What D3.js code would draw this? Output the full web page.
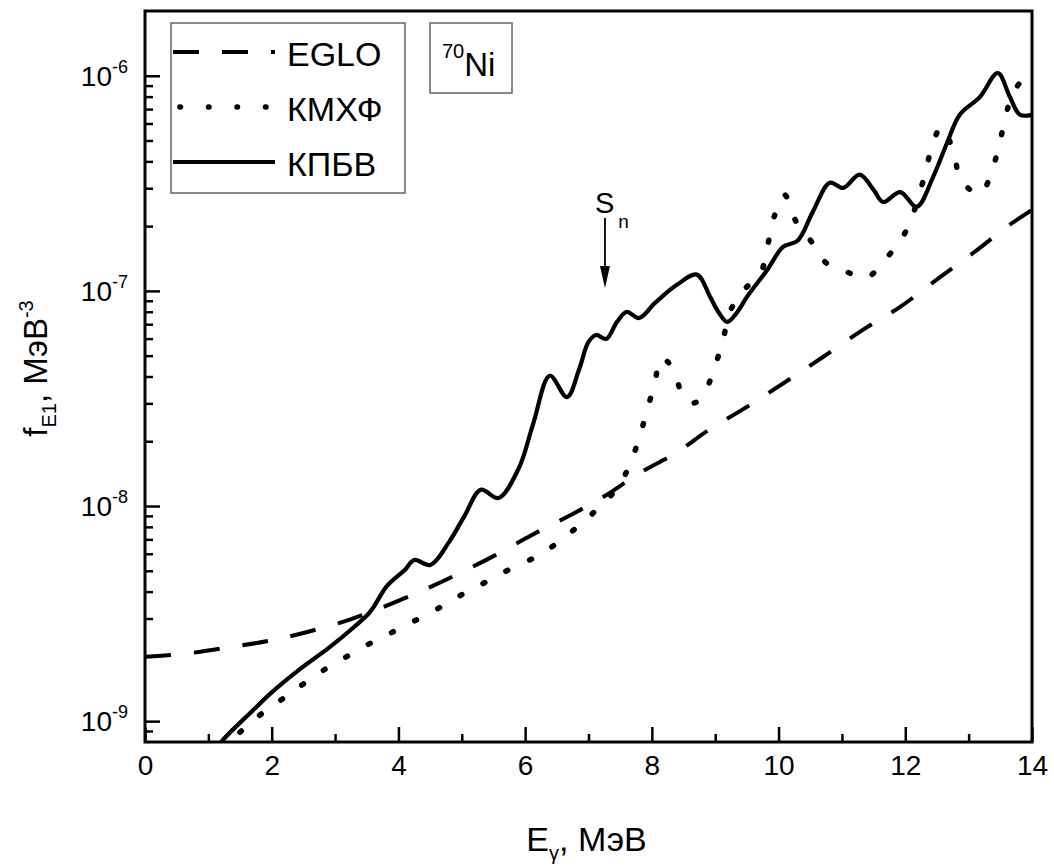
<!DOCTYPE html>
<html>
<head>
<meta charset="utf-8">
<script src="https://cdn.jsdelivr.net/npm/d3@7"></script>
<style>
  body { margin: 0; background: #fff; }
  svg { font-family: "Liberation Sans", Arial, sans-serif; }
</style>
</head>
<body>
<svg id="chart" width="1054" height="867"></svg>
<script>
// photon strength function f_E1 for 70Ni
const egloE = [0, 0.7, 1.35, 1.95, 2.5, 3.1, 3.6, 4.1, 4.5, 4.9, 5.5, 6.1, 6.66, 7.25, 7.8, 8.4, 8.87, 9.5, 10.13, 10.7, 11.33, 11.92, 12.5, 13.07, 13.65, 14.0];
const egloF = [1.99e-9, 2.07e-9, 2.21e-9, 2.36e-9, 2.57e-9, 2.88e-9, 3.25e-9, 3.73e-9, 4.20e-9, 4.77e-9, 5.85e-9, 7.32e-9, 8.89e-9, 1.11e-8, 1.42e-8, 1.78e-8, 2.23e-8, 2.89e-8, 3.81e-8, 4.93e-8, 6.59e-8, 8.43e-8, 1.13e-7, 1.50e-7, 2.03e-7, 2.38e-7];

const kmhfE = [1.2, 1.5, 1.87, 2.24, 2.5, 2.85, 3.19, 3.53, 3.87, 4.21, 4.55, 4.8, 5.1, 5.41, 5.76, 6.19, 6.53, 6.86, 7.14, 7.4, 7.55, 7.66, 7.8, 7.93, 8.05, 8.14, 8.25, 8.37, 8.5, 8.65, 8.8, 8.98, 9.12, 9.23, 9.44, 9.72, 9.83, 9.93, 10.09, 10.28, 10.52, 10.75, 11.09, 11.38, 11.72, 12.02, 12.3, 12.42, 12.57, 12.76, 12.88, 13.18, 13.38, 13.5, 13.6, 13.74, 14.0];
const kmhfF = [7.33e-10, 8.89e-10, 1.10e-9, 1.31e-9, 1.49e-9, 1.75e-9, 2.00e-9, 2.28e-9, 2.56e-9, 2.88e-9, 3.25e-9, 3.57e-9, 4.03e-9, 4.48e-9, 5.09e-9, 5.85e-9, 6.81e-9, 8.17e-9, 9.68e-9, 1.16e-8, 1.35e-8, 1.58e-8, 2.07e-8, 2.82e-8, 3.78e-8, 4.88e-8, 4.68e-8, 4.06e-8, 3.21e-8, 3.01e-8, 3.21e-8, 4.34e-8, 5.85e-8, 7.98e-8, 1.00e-7, 1.22e-7, 1.64e-7, 2.21e-7, 2.80e-7, 2.09e-7, 1.69e-7, 1.35e-7, 1.22e-7, 1.15e-7, 1.44e-7, 1.92e-7, 3.39e-7, 4.68e-7, 5.79e-7, 4.44e-7, 3.28e-7, 2.82e-7, 3.73e-7, 5.04e-7, 6.81e-7, 8.71e-7, 1.07e-6];

const kpbvE = [1.0, 1.2, 1.66, 2.0, 2.45, 2.9, 3.3, 3.55, 3.82, 4.1, 4.25, 4.5, 4.8, 5.05, 5.3, 5.58, 5.9, 6.13, 6.39, 6.66, 6.85, 7.0, 7.12, 7.28, 7.45, 7.6, 7.8, 8.05, 8.4, 8.71, 8.92, 9.05, 9.19, 9.35, 9.5, 9.82, 10.07, 10.3, 10.54, 10.81, 11.02, 11.28, 11.5, 11.65, 11.92, 12.18, 12.44, 12.66, 12.86, 13.18, 13.46, 13.65, 13.81, 14.0];
const kpbvF = [6.4e-10, 7.98e-10, 1.09e-9, 1.36e-9, 1.75e-9, 2.19e-9, 2.74e-9, 3.21e-9, 4.25e-9, 5.04e-9, 5.61e-9, 5.32e-9, 6.81e-9, 9.08e-9, 1.19e-8, 1.09e-8, 1.50e-8, 2.43e-8, 4.03e-8, 3.21e-8, 4.30e-8, 5.79e-8, 6.24e-8, 5.98e-8, 7.18e-8, 7.98e-8, 7.48e-8, 8.79e-8, 1.07e-7, 1.19e-7, 9.38e-8, 7.98e-8, 7.18e-8, 7.98e-8, 9.38e-8, 1.25e-7, 1.60e-7, 1.71e-7, 2.33e-7, 3.18e-7, 3.01e-7, 3.47e-7, 2.95e-7, 2.59e-7, 2.88e-7, 2.46e-7, 3.39e-7, 4.88e-7, 6.59e-7, 7.98e-7, 1.03e-6, 7.98e-7, 6.59e-7, 6.59e-7];

const seriesNames = ["EGLO", "КМХФ", "КПБВ"];
const xMajorTicks = [0, 2, 4, 6, 8, 10, 12, 14];
const xMinorTicks = [1, 3, 5, 7, 9, 11, 13];
const yMajorExps = [-9, -8, -7, -6];
const snEnergy = 7.26;

const svg = d3.select("#chart");
const plotLeft = 145, plotRight = 1032, plotTop = 11, plotBottom = 742;

const x = d3.scaleLinear().domain([0, 14]).range([plotLeft, plotRight]);
const y = d3.scaleLog().domain([8e-10, 2e-6]).range([plotBottom, plotTop]);

// minor log ticks 2..9 per decade, kept inside the domain
const yMinorTicks = [];
[-10, -9, -8, -7].forEach(e => {
    for (let m = 2; m <= 9; m++) {
        const v = m * Math.pow(10, e);
        if (v > 8e-10 && v < 1.9e-6) yMinorTicks.push(v);
    }
});

svg.append("defs").append("clipPath").attr("id", "plot-clip")
    .append("rect")
        .attr("x", plotLeft).attr("y", plotTop)
        .attr("width", plotRight - plotLeft).attr("height", plotBottom - plotTop);

// ticks point inward
function drawTicks(axis, transform, cls) {
    const g = svg.append("g").attr("class", cls).attr("transform", transform).call(axis);
    g.select(".domain").remove();
    g.selectAll(".tick line").attr("stroke", "#000").attr("stroke-width", 2.5);
    return g;
}

const xMajor = drawTicks(
    d3.axisBottom(x).tickValues(xMajorTicks).tickSize(-15).tickPadding(13).tickFormat(d3.format("d")),
    "translate(0," + plotBottom + ")", "x-axis");
xMajor.selectAll(".tick text")
    .attr("font-size", 28).attr("fill", "#000")
    .attr("font-family", "Liberation Sans, Arial, sans-serif")
    .attr("dy", "0.71em");
drawTicks(d3.axisBottom(x).tickValues(xMinorTicks).tickSize(-8).tickFormat(""),
    "translate(0," + plotBottom + ")", "x-axis-minor");

drawTicks(
    d3.axisLeft(y).tickValues(yMajorExps.map(e => Math.pow(10, e))).tickSize(-15).tickFormat(""),
    "translate(" + plotLeft + ",0)", "y-axis");
drawTicks(d3.axisLeft(y).tickValues(yMinorTicks).tickSize(-8).tickFormat(""),
    "translate(" + plotLeft + ",0)", "y-axis-minor");

// 10^n labels with real superscripts
svg.append("g").attr("class", "y-labels")
    .selectAll("text").data(yMajorExps).enter()
    .append("text")
        .attr("x", plotLeft - 17)
        .attr("y", e => y(Math.pow(10, e)) + 10)
        .attr("text-anchor", "end")
        .attr("font-size", 28)
        .each(function (e) {
            const t = d3.select(this);
            t.append("tspan").text("10");
            t.append("tspan").attr("font-size", 18).attr("dy", -13).text(String(e));
        });

// curves
const line = d3.line()
    .x(d => x(d[0]))
    .y(d => y(d[1]))
    .curve(d3.curveCatmullRom.alpha(0.5));

const series = [
    { name: seriesNames[0], pts: d3.zip(egloE, egloF), dash: "26 23", width: 4, cap: "butt" },
    { name: seriesNames[1], pts: d3.zip(kmhfE, kmhfF), dash: "2 24", width: 5.5, cap: "round" },
    { name: seriesNames[2], pts: d3.zip(kpbvE, kpbvF), dash: null, width: 4.2, cap: "round" }
];

svg.append("g").attr("clip-path", "url(#plot-clip)")
    .selectAll("path").data(series).enter()
    .append("path")
        .attr("d", d => line(d.pts))
        .attr("fill", "none")
        .attr("stroke", "#000")
        .attr("stroke-width", d => d.width)
        .attr("stroke-linecap", d => d.cap)
        .attr("stroke-linejoin", "round")
        .attr("stroke-dasharray", d => d.dash);

// frame
svg.append("rect")
    .attr("x", plotLeft).attr("y", plotTop)
    .attr("width", plotRight - plotLeft).attr("height", plotBottom - plotTop)
    .attr("fill", "none").attr("stroke", "#000").attr("stroke-width", 3);

// legend
const legend = svg.append("g").attr("class", "legend");
legend.append("rect")
    .attr("x", 171).attr("y", 23).attr("width", 234).attr("height", 170)
    .attr("fill", "#fff").attr("stroke", "#666").attr("stroke-width", 1.5);
const legendRow = legend.selectAll("g.row").data(series).enter()
    .append("g").attr("class", "row")
    .attr("transform", (d, i) => "translate(0," + (i * 55) + ")");
legendRow.append("line")
    .attr("x1", d => d.cap === "round" && d.dash ? 180 : 173).attr("x2", 275)
    .attr("y1", 52).attr("y2", 52)
    .attr("stroke", "#000")
    .attr("stroke-width", d => d.width)
    .attr("stroke-linecap", d => d.dash ? d.cap : "butt")
    .attr("stroke-dasharray", d => d.dash ? (d.cap === "round" ? "0.5 28" : d.dash) : null);
legendRow.append("text")
    .attr("x", 287).attr("y", 66)
    .attr("font-size", 34)
    .text(d => d.name);

// nucleus label
const nuc = svg.append("g").attr("class", "nucleus");
nuc.append("rect")
    .attr("x", 430).attr("y", 23).attr("width", 82).attr("height", 70)
    .attr("fill", "#fff").attr("stroke", "#666").attr("stroke-width", 1.5);
const nucText = nuc.append("text").attr("x", 442).attr("y", 76).attr("font-size", 33);
nucText.append("tspan").attr("font-size", 20).attr("dy", -18).text("70");
nucText.append("tspan").attr("dy", 18).text("Ni");

// neutron separation energy marker
const snX = x(snEnergy);
const snG = svg.append("g").attr("class", "sn");
const snText = snG.append("text").attr("x", snX - 10).attr("y", 213).attr("font-size", 29);
snText.append("tspan").text("S");
snText.append("tspan").attr("font-size", 19).attr("dx", 4).attr("dy", 15).text("n");
snG.append("line")
    .attr("x1", snX).attr("x2", snX).attr("y1", 218).attr("y2", 270)
    .attr("stroke", "#000").attr("stroke-width", 1.8);
snG.append("path")
    .attr("d", "M" + (snX - 5) + ",266L" + (snX + 5) + ",266L" + snX + ",288Z")
    .attr("fill", "#000");

// axis titles
const xTitle = svg.append("text")
    .attr("x", (plotLeft + plotRight) / 2 - 2).attr("y", 851)
    .attr("text-anchor", "middle").attr("font-size", 34);
xTitle.append("tspan").text("E");
xTitle.append("tspan").attr("font-size", 20).attr("dy", 9).text("γ");
xTitle.append("tspan").attr("dy", -9).text(", МэВ");

const yTitle = svg.append("text")
    .attr("transform", "translate(47," + ((plotTop + plotBottom) / 2 - 8) + ") rotate(-90)")
    .attr("text-anchor", "middle").attr("font-size", 33);
yTitle.append("tspan").text("f");
yTitle.append("tspan").attr("font-size", 20).attr("dy", 9).text("E1");
yTitle.append("tspan").attr("dy", -9).text(", МэВ");
yTitle.append("tspan").attr("font-size", 20).attr("dy", -14).text("-3");
</script>
</body>
</html>
